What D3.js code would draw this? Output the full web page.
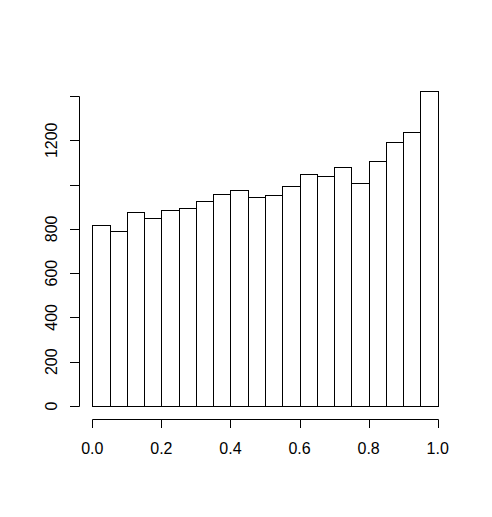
<!DOCTYPE html>
<html><head><meta charset="utf-8">
<script src="https://cdn.jsdelivr.net/npm/d3@7"></script>
<style>body{margin:0;background:#fff}svg{display:block}text{font-family:"Liberation Sans",Arial,sans-serif;font-size:16px;fill:#000}</style>
</head><body>
<svg id="c" width="492" height="517"></svg>
<script>
const binEdges = [0,0.05,0.1,0.15,0.2,0.25,0.3,0.35,0.4,0.45,0.5,0.55,0.6,0.65,0.7,0.75,0.8,0.85,0.9,0.95,1.0];
const counts = [817,790,874,847,886,892,924,956,974,945,951,995,1049,1037,1079,1005,1108,1192,1239,1422];
const xTicks = [0,0.2,0.4,0.6,0.8,1.0];
const xTickLabels = ["0.0","0.2","0.4","0.6","0.8","1.0"];
const yTicks = [0,200,400,600,800,1000,1200,1400];
const yTickLabels = ["0","200","400","600","800","","1200",""];

const svg = d3.select("#c");
const x = d3.scaleLinear().domain([0,1]).range([92.3,437.7]);
const y = d3.scaleLinear().domain([0,1400]).range([406,96]);
const px = v => Math.round(v) + 0.5;

const bins = counts.map((c,i)=>({x0:binEdges[i],x1:binEdges[i+1],c}));
svg.append("g").selectAll("rect").data(bins).join("rect")
  .attr("x", d=>px(x(d.x0))).attr("y", d=>px(y(d.c)))
  .attr("width", d=>px(x(d.x1))-px(x(d.x0)))
  .attr("height", d=>px(y(0))-px(y(d.c)))
  .attr("fill","#fff").attr("stroke","#000").attr("stroke-width",1);

// x axis
const gx = svg.append("g");
gx.append("line").attr("x1",px(x(0))).attr("x2",px(x(1))).attr("y1",419.5).attr("y2",419.5).attr("stroke","#000");
gx.selectAll("line.t").data(xTicks).join("line").attr("class","t")
  .attr("x1",d=>px(x(d))).attr("x2",d=>px(x(d))).attr("y1",419.5).attr("y2",428).attr("stroke","#000");
gx.selectAll("text").data(xTicks).join("text")
  .attr("x",d=>x(d)).attr("y",454).attr("text-anchor","middle").text((d,i)=>xTickLabels[i]);

// y axis
const gy = svg.append("g");
gy.append("line").attr("x1",79.5).attr("x2",79.5).attr("y1",px(y(0))).attr("y2",px(y(1400))).attr("stroke","#000");
gy.selectAll("line.t").data(yTicks).join("line").attr("class","t")
  .attr("x1",70).attr("x2",79.5).attr("y1",d=>px(y(d))).attr("y2",d=>px(y(d))).attr("stroke","#000");
gy.selectAll("text").data(yTicks).join("text")
  .attr("transform",d=>`translate(56.5,${y(d)}) rotate(-90)`)
  .attr("text-anchor","middle").text((d,i)=>yTickLabels[i]);
</script>
</body></html>
